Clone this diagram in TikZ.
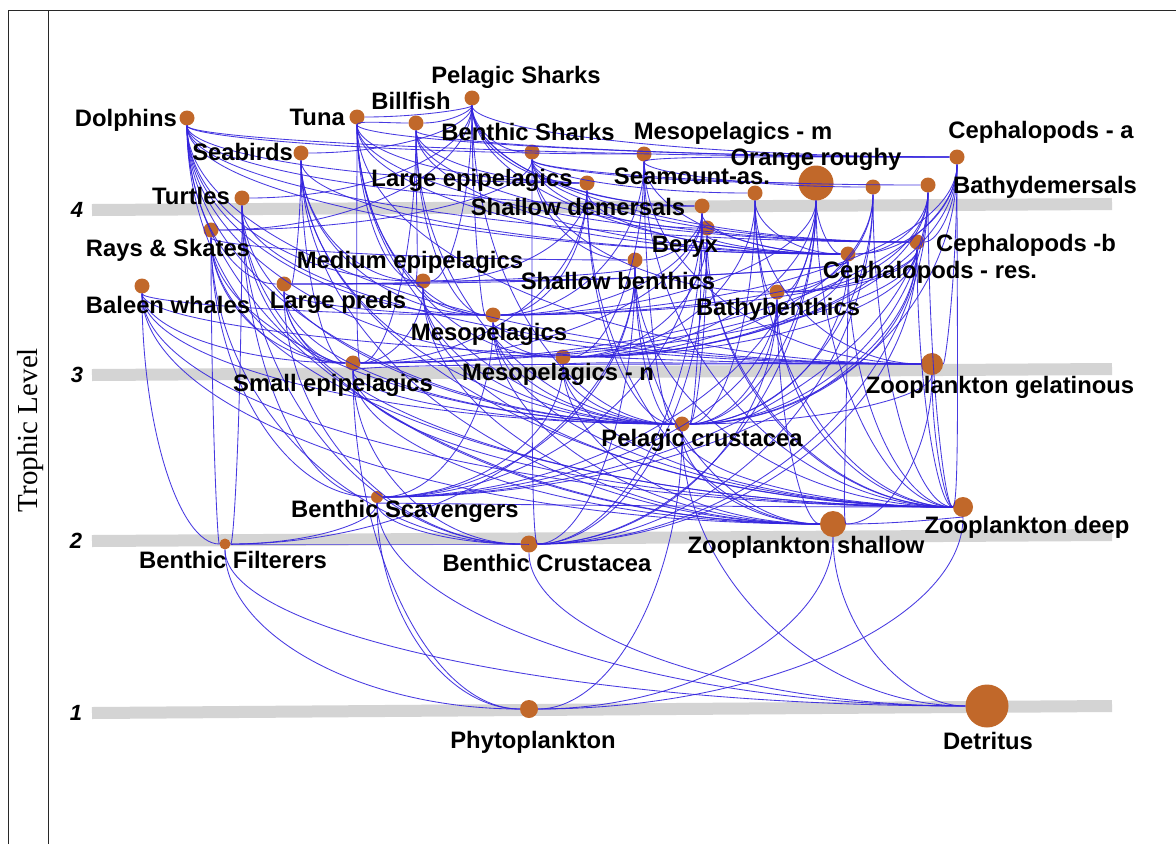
\documentclass[tikz,border=0pt]{standalone}
\usepackage{fontspec}
\setmainfont{Liberation Sans}
\newfontfamily\axisfont{Liberation Serif}
\definecolor{webc}{RGB}{52,36,222}
\definecolor{dotc}{RGB}{193,104,42}
\definecolor{barc}{RGB}{212,212,212}
\definecolor{framec}{RGB}{40,40,40}
\tikzset{
  fwdot/.style={circle, fill=dotc, inner sep=0pt, minimum size=#1},
  fwdot/.default=15pt,
  lab/.style={font=\bfseries\fontsize{23.8}{26}\selectfont, inner sep=0pt,
              text height=17pt, text depth=0pt, text=black},
  lvl/.style={font=\bfseries\itshape\fontsize{22}{24}\selectfont, inner sep=0pt,
              text height=16pt, text depth=0pt},
  webline/.style={draw=webc, line width=0.85pt, opacity=0.9},
  levelbar/.style={draw=barc, line width=12pt},
  framel/.style={draw=framec, line width=1pt}
}
% feeding link: quarter-ellipse arc that leaves the higher group downward
% and reaches the lower group horizontally
\newdimen\wUx \newdimen\wUy \newdimen\wLx \newdimen\wLy \newdimen\wT
\newcommand\fweb[2]{%
  \pgfextractx{\wUx}{\pgfpointanchor{#1}{center}}%
  \pgfextracty{\wUy}{\pgfpointanchor{#1}{center}}%
  \pgfextractx{\wLx}{\pgfpointanchor{#2}{center}}%
  \pgfextracty{\wLy}{\pgfpointanchor{#2}{center}}%
  \edef\wU{#1}\edef\wL{#2}%
  \ifdim\wUy<\wLy
    \wT=\wUx \wUx=\wLx \wLx=\wT
    \wT=\wUy \wUy=\wLy \wLy=\wT
    \edef\wU{#2}\edef\wL{#1}%
  \fi
  \pgfmathsetmacro\wax{\wUx}%
  \pgfmathsetmacro\way{\wUy-0.55*(\wUy-\wLy)}%
  \pgfmathsetmacro\wbx{\wLx-0.55*(\wLx-\wUx)}%
  \pgfmathsetmacro\wby{\wLy}%
  \draw[webline] (\wU) .. controls (\wax pt,\way pt) and (\wbx pt,\wby pt) .. (\wL);%
}
\begin{document}
\begin{tikzpicture}[x=1pt,y=1pt]
\useasboundingbox (0,0) rectangle (1176,-844);
\fill[white] (0,0) rectangle (1176,-844);

% frame and axis title
\draw[framel] (8,-844) -- (8,-10) -- (1176,-10);
\draw[framel] (48,-10) -- (48,-844);
\node[font=\axisfont\fontsize{29}{31}\selectfont, rotate=90, inner sep=0pt] (axis) at (31,-430) {Trophic Level};

% trophic level bars
\draw[levelbar] (92,-210) -- (1112,-204);
\draw[levelbar] (92,-375) -- (1112,-369);
\draw[levelbar] (92,-541) -- (1112,-535);
\draw[levelbar] (92,-713) -- (1112,-706);
\node[lvl] (n4) at (77,-209) {4};
\node[lvl] (n3) at (77,-374) {3};
\node[lvl] (n2) at (76,-540) {2};
\node[lvl] (n1) at (76,-712) {1};

% functional groups
\node[fwdot] (dol) at (187,-118) {};
\node[fwdot] (tun) at (357,-117) {};
\node[fwdot] (bil) at (416,-123) {};
\node[fwdot] (psh) at (472,-98) {};
\node[fwdot] (sbd) at (301,-153) {};
\node[fwdot] (bsh) at (532,-152) {};
\node[fwdot] (mpm) at (644,-154) {};
\node[fwdot] (cpa) at (957,-157) {};
\node[fwdot=35pt] (oro) at (816,-183) {};
\node[fwdot] (lep) at (587,-183) {};
\node[fwdot] (sas) at (755,-193) {};
\node[fwdot] (dem) at (873,-187) {};
\node[fwdot] (bdm) at (928,-185) {};
\node[fwdot] (tur) at (242,-198) {};
\node[fwdot] (sdm) at (702,-206) {};
\node[fwdot] (ber) at (707,-228) {};
\node[fwdot] (cpb) at (917,-242) {};
\node[fwdot] (ray) at (211,-230) {};
\node[fwdot] (mep) at (423,-281) {};
\node[fwdot] (sbn) at (635,-260) {};
\node[fwdot] (cpr) at (848,-254) {};
\node[fwdot] (bal) at (142,-286) {};
\node[fwdot] (lpr) at (284,-284) {};
\node[fwdot] (bbn) at (777,-292) {};
\node[fwdot] (mes) at (493,-315) {};
\node[fwdot] (sep) at (353,-363) {};
\node[fwdot] (mpn) at (563,-357) {};
\node[fwdot=22pt] (zgl) at (932,-364) {};
\node[fwdot] (pcr) at (682,-424) {};
\node[fwdot=12pt] (bsc) at (377,-497) {};
\node[fwdot=20pt] (zdp) at (963,-507) {};
\node[fwdot=26pt] (zsh) at (833,-524) {};
\node[fwdot=11pt] (bfl) at (225,-544) {};
\node[fwdot=17pt] (bcr) at (529,-544) {};
\node[fwdot=18pt] (phy) at (529,-709) {};
\node[fwdot=43pt] (det) at (987,-706) {};

% feeding links (predator/prey)
\foreach \p/\q in {
  dol/lep, dol/mep, dol/sep, dol/mes, dol/mpm, dol/mpn, dol/cpa, dol/cpb,
  dol/cpr, dol/pcr, dol/lpr, dol/sdm, dol/zsh, dol/zgl,
  tun/lep, tun/mep, tun/sep, tun/mes, tun/mpn, tun/cpa, tun/cpr, tun/pcr, tun/cpb, tun/zgl,
  bil/tun, bil/lep, bil/mep, bil/sep, bil/cpa, bil/cpb, bil/mes, bil/cpr, bil/pcr,
  psh/bil, psh/lep, psh/mep, psh/cpa, psh/cpb, psh/sdm, psh/mes, psh/cpr,
  psh/sbd, psh/tur, psh/ray, psh/bsh, psh/tun, psh/pcr,
  sbd/sep, sbd/mep, sbd/mes, sbd/cpr, sbd/pcr, sbd/zsh, sbd/lpr, sbd/zdp,
  bsh/sdm, bsh/ber, bsh/bdm, bsh/oro, bsh/ray, bsh/sbn, bsh/bbn, bsh/cpb, bsh/bcr, bsh/sas,
  mpm/mes, mpm/mpn, mpm/pcr, mpm/zdp, mpm/zgl, mpm/cpr,
  cpa/mpm, cpa/mes, cpa/mpn, cpa/sep, cpa/pcr, cpa/cpb, cpa/zdp, cpa/zgl, cpa/cpr,
  oro/mpn, oro/pcr, oro/zdp, oro/bbn, oro/cpr, oro/bcr, oro/mes, oro/bsc,
  lep/mep, lep/sep, lep/cpr, lep/pcr, lep/mes, lep/zsh,
  sas/mpn, sas/pcr, sas/zdp, sas/zgl, sas/cpr, sas/bbn,
  dem/mpm, dem/pcr, dem/zdp, dem/bbn, dem/bcr, dem/mpn,
  bdm/bbn, bdm/bcr, bdm/pcr, bdm/mpn, bdm/cpr, bdm/bsc, bdm/zdp,
  tur/zgl, tur/bcr, tur/sep, tur/bfl, tur/pcr, tur/bsc, tur/zsh,
  sdm/sbn, sdm/bcr, sdm/sep, sdm/mes, sdm/pcr, sdm/bsc, sdm/cpr, sdm/zdp,
  ber/mpn, ber/pcr, ber/zdp, ber/cpr, ber/bcr,
  cpb/mes, cpb/mpn, cpb/pcr, cpb/bbn, cpb/bcr, cpb/zdp, cpb/sep, cpb/bsc,
  ray/bcr, ray/bsc, ray/sbn, ray/sep, ray/bfl, ray/pcr, ray/zdp,
  mep/sep, mep/mes, mep/pcr, mep/zsh, mep/cpr, mep/zdp,
  sbn/bcr, sbn/bsc, sbn/bfl, sbn/pcr, sbn/zsh, sbn/zdp,
  cpr/mpn, cpr/pcr, cpr/zdp, cpr/zsh, cpr/sep, cpr/mes,
  bal/pcr, bal/sep, bal/zsh, bal/zdp, bal/mes, bal/bfl, bal/zgl,
  lpr/sep, lpr/mep, lpr/mes, lpr/cpr, lpr/pcr, lpr/sbn, lpr/bcr, lpr/zdp,
  bbn/bcr, bbn/bsc, bbn/pcr, bbn/zdp, bbn/zsh,
  mes/mpn, mes/pcr, mes/zsh, mes/zdp, mes/zgl, mes/bsc,
  sep/pcr, sep/zsh, sep/zgl, sep/phy, sep/zdp, sep/bcr,
  mpn/pcr, mpn/zdp, mpn/zsh, mpn/zgl, mpn/bsc,
  zgl/zsh, zgl/zdp, zgl/pcr,
  pcr/zsh, pcr/zdp, pcr/phy, pcr/det,
  bsc/bcr, bsc/bfl, bsc/det, bsc/zdp, bsc/phy,
  zdp/phy, zdp/zsh,
  zsh/phy, zsh/det,
  bfl/phy, bfl/det,
  bcr/det, bcr/bfl}
  {\fweb{\p}{\q}}

% group names
\node[lab,anchor=east] (l-dol) at (177,-118) {Dolphins};
\node[lab,anchor=east] (l-tun) at (345,-117) {Tuna};
\node[lab] (l-bil) at (411,-101) {Billfish};
\node[lab] (l-psh) at (516,-75) {Pelagic Sharks};
\node[lab,anchor=east] (l-sbd) at (293,-152) {Seabirds};
\node[lab] (l-bsh) at (528,-132) {Benthic Sharks};
\node[lab] (l-mpm) at (733,-131) {Mesopelagics - m};
\node[lab] (l-cpa) at (1041,-130) {Cephalopods - a};
\node[lab] (l-oro) at (816,-157) {Orange roughy};
\node[lab] (l-sas) at (692,-176) {Seamount-as.};
\node[lab] (l-bdm) at (1045,-185) {Bathydemersals};
\node[lab] (l-lep) at (472,-178) {Large epipelagics};
\node[lab,anchor=east] (l-tur) at (230,-196) {Turtles};
\node[lab] (l-sdm) at (578,-207) {Shallow demersals};
\node[lab] (l-ber) at (685,-244) {Beryx};
\node[lab] (l-cpb) at (1026,-243) {Cephalopods -b};
\node[lab] (l-ray) at (168,-248) {Rays \& Skates};
\node[lab] (l-mep) at (410,-260) {Medium epipelagics};
\node[lab] (l-sbn) at (618,-281) {Shallow benthics};
\node[lab] (l-cpr) at (930,-270) {Cephalopods - res.};
\node[lab] (l-bal) at (168,-305) {Baleen whales};
\node[lab] (l-lpr) at (338,-300) {Large preds};
\node[lab] (l-bbn) at (778,-307) {Bathybenthics};
\node[lab] (l-mes) at (489,-332) {Mesopelagics};
\node[lab] (l-sep) at (333,-383) {Small epipelagics};
\node[lab] (l-mpn) at (558,-372) {Mesopelagics - n};
\node[lab] (l-zgl) at (1000,-385) {Zooplankton gelatinous};
\node[lab] (l-pcr) at (702,-438) {Pelagic crustacea};
\node[lab] (l-bsc) at (405,-509) {Benthic Scavengers};
\node[lab] (l-zdp) at (1027,-525) {Zooplankton deep};
\node[lab] (l-zsh) at (806,-545) {Zooplankton shallow};
\node[lab] (l-bfl) at (233,-560) {Benthic Filterers};
\node[lab] (l-bcr) at (547,-563) {Benthic Crustacea};
\node[lab] (l-phy) at (533,-740) {Phytoplankton};
\node[lab] (l-det) at (988,-741) {Detritus};
\end{tikzpicture}
\end{document}
